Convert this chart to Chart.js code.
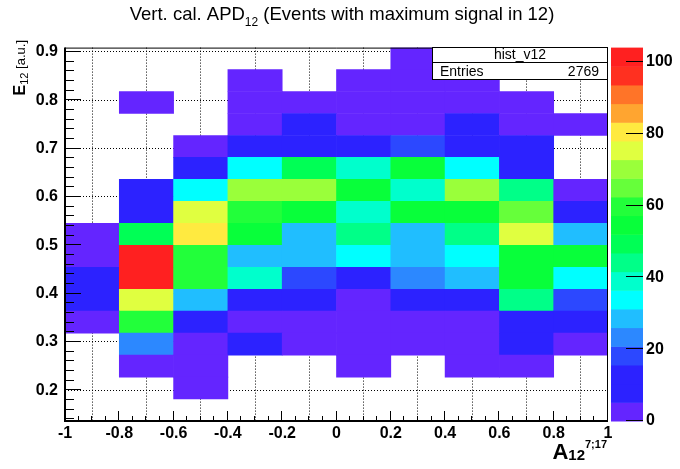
<!DOCTYPE html>
<html>
<head>
<meta charset="utf-8">
<script src="https://cdn.jsdelivr.net/npm/chart.js@4.4.0/dist/chart.umd.min.js"></script>
<style>
  html, body { margin: 0; padding: 0; background: #fff; }
  canvas { display: block; }
</style>
</head>
<body>
<canvas id="hist" width="680" height="469"></canvas>
<script>
// bin edges of the 2D histogram
const xEdges = [-1, -0.8, -0.6, -0.4, -0.2, 0, 0.2, 0.4, 0.6, 0.8, 1];
const yEdges = [0.13636, 0.18182, 0.22727, 0.27273, 0.31818, 0.36364, 0.40909, 0.45455, 0.5,
                0.54545, 0.59091, 0.63636, 0.68182, 0.72727, 0.77273, 0.81818, 0.86364, 0.90909];

// bin contents, one row per E12 bin from the bottom up, columns follow xEdges
const binContents = [
  [0, 0, 0, 0, 0, 0, 0, 0, 0, 0],
  [0, 0, 3, 0, 0, 0, 0, 0, 0, 0],
  [0, 3, 3, 0, 0, 3, 0, 3, 3, 0],
  [0, 23, 3, 10, 3, 3, 3, 3, 10, 3],
  [3, 60, 10, 3, 3, 3, 3, 3, 10, 10],
  [10, 75, 29, 10, 10, 3, 10, 10, 44, 18],
  [13, 101, 60, 39, 18, 10, 23, 29, 55, 34],
  [3, 104, 60, 29, 29, 34, 29, 34, 55, 55],
  [3, 49, 81, 55, 29, 44, 29, 44, 75, 29],
  [0, 10, 75, 60, 55, 39, 55, 55, 65, 10],
  [0, 10, 34, 70, 70, 55, 39, 70, 44, 3],
  [0, 0, 10, 34, 49, 39, 55, 34, 10, 0],
  [0, 0, 3, 10, 10, 10, 18, 10, 10, 0],
  [0, 0, 0, 3, 10, 3, 3, 10, 3, 3],
  [0, 3, 0, 3, 3, 3, 3, 3, 3, 0],
  [0, 0, 0, 3, 0, 3, 3, 3, 0, 0],
  [0, 0, 0, 0, 0, 0, 3, 0, 0, 0]
];

const zMax = 104;
// 20 contour colours, lowest first
const paletteColors = [
  '#6425ff', '#2c22ff', '#2c22ff', '#2c48ff', '#2c88ff',
  '#20beff', '#00ffff', '#00ffcc', '#00ff88', '#00ff55',
  '#08ff3a', '#22ff3a', '#66ff3a', '#9aff3a', '#e0ff40',
  '#ffea40', '#ffa530', '#ff7428', '#ff3020', '#ff2020'
];

const xTicks = [-1, -0.8, -0.6, -0.4, -0.2, 0, 0.2, 0.4, 0.6, 0.8, 1];
const yTicks = [0.2, 0.3, 0.4, 0.5, 0.6, 0.7, 0.8, 0.9];
const zTicks = [0, 20, 40, 60, 80, 100];

const histName = 'hist_v12';
const entries = 2769;

const FONT = "'Liberation Sans', Arial, Helvetica, sans-serif";

function colorFor(v) {
  const band = zMax / paletteColors.length;
  const k = Math.min(paletteColors.length - 1, Math.floor(v / band));
  return paletteColors[k];
}

const datasets = binContents.map((row, r) => ({
  label: 'row' + r,
  data: row
    .map((v, c) => ({ x: (xEdges[c] + xEdges[c + 1]) / 2, y: [yEdges[r], yEdges[r + 1]], v: v }))
    .filter(p => p.v > 0),
  backgroundColor: ctx => (ctx.raw ? colorFor(ctx.raw.v) : 'rgba(0,0,0,0)')
}));

function fmtTick(v) {
  return String(Number(v.toFixed(2)));
}

// frame, inward ticks, colour bar, stats box and titles in the ROOT style
const rootDecor = {
  id: 'rootDecor',
  afterDraw(chart) {
    const { ctx, chartArea: a, scales } = chart;
    const xs = scales.x, ys = scales.y, zs = scales.z;
    ctx.save();

    // colour bar
    const band = zMax / paletteColors.length;
    const barLeft = a.right + 3, barW = 32;
    paletteColors.forEach((c, k) => {
      const top = zs.getPixelForValue((k + 1) * band);
      const bot = zs.getPixelForValue(k * band);
      ctx.fillStyle = c;
      ctx.fillRect(barLeft, top, barW, bot - top + 0.5);
    });
    ctx.strokeStyle = '#000';
    ctx.lineWidth = 1;
    zTicks.forEach(v => {
      const py = Math.round(zs.getPixelForValue(v)) - 0.5;
      ctx.beginPath();
      ctx.moveTo(barLeft + barW - 17, py);
      ctx.lineTo(barLeft + barW, py);
      ctx.stroke();
    });

    // frame
    ctx.lineWidth = 1;
    ctx.beginPath();
    ctx.moveTo(a.left, a.top + 0.5);
    ctx.lineTo(a.right - 0.5, a.top + 0.5);
    ctx.lineTo(a.right - 0.5, a.bottom);
    ctx.stroke();
    ctx.lineWidth = 2;
    ctx.beginPath();
    ctx.moveTo(a.left, a.top);
    ctx.lineTo(a.left, a.bottom);
    ctx.lineTo(a.right, a.bottom);
    ctx.stroke();

    // inward ticks
    ctx.lineWidth = 1;
    ctx.beginPath();
    for (let i = Math.ceil(ys.min / 0.02 - 1e-6); i * 0.02 <= ys.max + 1e-9; i++) {
      const py = Math.round(ys.getPixelForValue(i * 0.02)) - 0.5;
      const len = (i % 5 === 0) ? 16 : 9;
      ctx.moveTo(a.left, py);
      ctx.lineTo(a.left + len, py);
    }
    for (let i = -20; i <= 20; i++) {
      const px = Math.round(xs.getPixelForValue(i * 0.05)) - 0.5;
      const len = (i % 4 === 0) ? 10 : 5;
      ctx.moveTo(px, a.bottom);
      ctx.lineTo(px, a.bottom - len);
    }
    ctx.stroke();

    // stats box
    const bx = 432, by = 47, bw = a.right - bx, bh = 32;
    ctx.fillStyle = '#fff';
    ctx.fillRect(bx, by, bw, bh);
    ctx.strokeStyle = '#000';
    ctx.strokeRect(bx + 0.5, by + 0.5, bw - 1, bh);
    ctx.beginPath();
    ctx.moveTo(bx, by + 15.5);
    ctx.lineTo(bx + bw, by + 15.5);
    ctx.stroke();
    ctx.fillStyle = '#000';
    ctx.font = '14px ' + FONT;
    ctx.textBaseline = 'alphabetic';
    ctx.textAlign = 'center';
    ctx.fillText(histName, bx + bw / 2, by + 11.5);
    ctx.textAlign = 'left';
    ctx.fillText('Entries', bx + 8, by + 28.5);
    ctx.textAlign = 'right';
    ctx.fillText(String(entries), bx + bw - 9, by + 28.5);

    // title
    const tMain = 'Vert. cal. APD', tSub = '12', tRest = ' (Events with maximum signal in 12)';
    const fMain = '18.5px ' + FONT, fSub = '12px ' + FONT;
    ctx.font = fMain;
    const w1 = ctx.measureText(tMain).width, w3 = ctx.measureText(tRest).width;
    ctx.font = fSub;
    const w2 = ctx.measureText(tSub).width;
    let tx = 342 - (w1 + w2 + w3) / 2;
    ctx.textAlign = 'left';
    ctx.font = fMain;
    ctx.fillText(tMain, tx, 20);
    ctx.font = fSub;
    ctx.fillText(tSub, tx + w1, 26);
    ctx.font = fMain;
    ctx.fillText(tRest, tx + w1 + w2, 20);

    // x axis title  A_12^{7;17}
    const fA = 'bold 22px ' + FONT, fA1 = 'bold 15px ' + FONT, fA2 = 'bold 11px ' + FONT;
    ctx.font = fA; const wa = ctx.measureText('A').width;
    ctx.font = fA1; const wb = ctx.measureText('12').width;
    ctx.font = fA2; const wc = ctx.measureText('7;17').width;
    let ax = 607 - (wa + wb + wc);
    ctx.font = fA; ctx.fillText('A', ax, 458.5);
    ctx.font = fA1; ctx.fillText('12', ax + wa, 459.5);
    ctx.font = fA2; ctx.fillText('7;17', ax + wa + wb, 448);

    // y axis title  E_12 [a.u.]
    ctx.translate(24.5, 40);
    ctx.rotate(-Math.PI / 2);
    const fE = 'bold 16px ' + FONT, fE1 = '11px ' + FONT, fE2 = '13px ' + FONT;
    ctx.font = fE2; const we3 = ctx.measureText(' [a.u.]').width;
    ctx.font = fE1; const we2 = ctx.measureText('12').width;
    ctx.font = fE; const we1 = ctx.measureText('E').width;
    let ex = -(we1 + we2 + we3);
    ctx.font = fE; ctx.fillText('E', ex, 0);
    ctx.font = fE1; ctx.fillText('12', ex + we1, 3);
    ctx.font = fE2; ctx.fillText(' [a.u.]', ex + we1 + we2, 0);

    ctx.restore();
  }
};

const tickFont = { family: FONT, size: 16, weight: 'bold' };

new Chart(document.getElementById('hist'), {
  type: 'bar',
  data: { datasets: datasets },
  options: {
    responsive: false,
    animation: false,
    layout: { padding: { top: 45, left: 0, right: 0, bottom: 0 } },
    datasets: {
      bar: {
        grouped: false,
        barPercentage: 1,
        categoryPercentage: 1,
        borderWidth: 0
      }
    },
    plugins: {
      legend: { display: false },
      title: { display: false },
      tooltip: { enabled: false }
    },
    scales: {
      x: {
        type: 'linear',
        position: 'bottom',
        min: xEdges[0],
        max: xEdges[xEdges.length - 1],
        offset: false,
        z: 1,
        afterBuildTicks: s => { s.ticks = xTicks.map(v => ({ value: v })); },
        afterFit: s => { s.height = 48; },
        grid: { color: '#000', lineWidth: 1, drawTicks: false },
        border: { display: false, dash: [1, 2] },
        ticks: {
          autoSkip: false, maxRotation: 0, padding: 3, color: '#000', font: tickFont,
          callback: v => fmtTick(v)
        }
      },
      y: {
        type: 'linear',
        position: 'left',
        min: yEdges[0],
        max: yEdges[yEdges.length - 1],
        z: 1,
        afterBuildTicks: s => { s.ticks = yTicks.map(v => ({ value: v })); },
        afterFit: s => { s.width = 65; },
        grid: { color: '#000', lineWidth: 1, drawTicks: false },
        border: { display: false, dash: [1, 2] },
        ticks: {
          autoSkip: false, padding: 7, color: '#000', font: tickFont,
          callback: v => fmtTick(v)
        }
      },
      z: {
        type: 'linear',
        axis: 'y',
        position: 'right',
        min: 0,
        max: zMax,
        afterBuildTicks: s => { s.ticks = zTicks.map(v => ({ value: v })); },
        afterFit: s => { s.width = 72; },
        grid: { display: false, drawTicks: false },
        border: { display: false },
        ticks: {
          autoSkip: false, padding: 38, color: '#000', font: tickFont,
          callback: v => String(v)
        }
      }
    }
  },
  plugins: [rootDecor]
});
</script>
</body>
</html>
